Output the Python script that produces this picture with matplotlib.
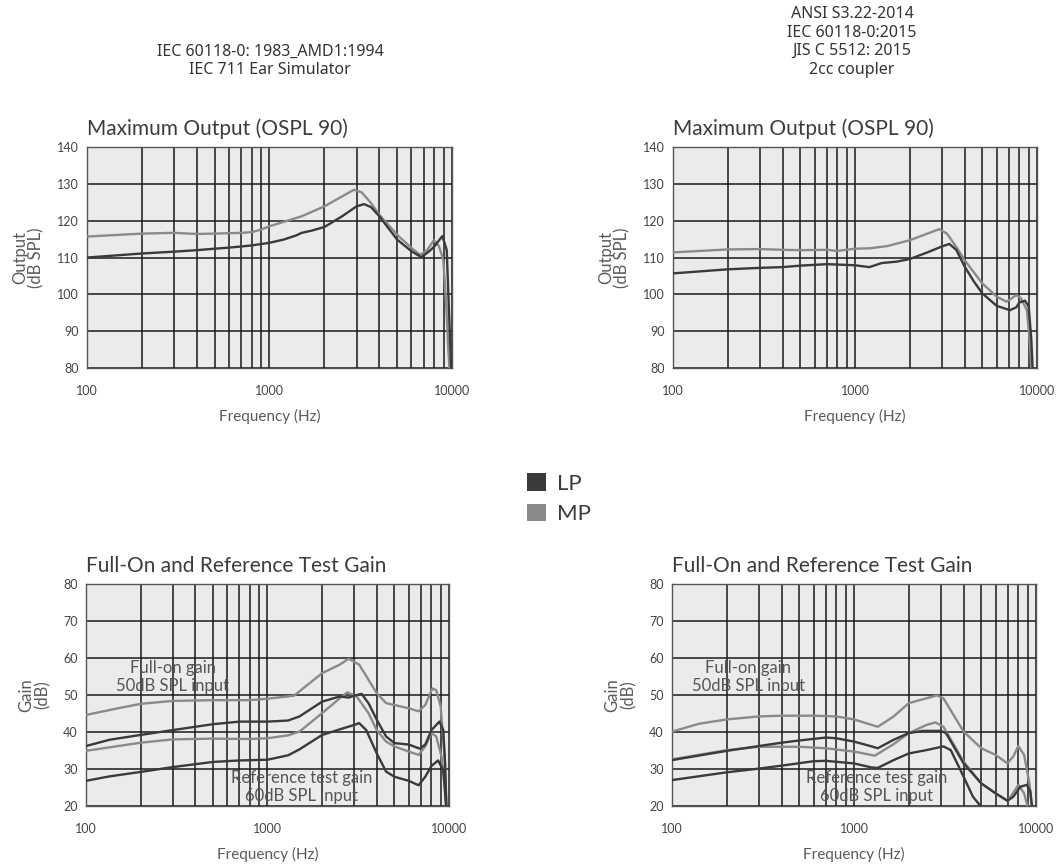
import matplotlib
matplotlib.use("Agg")
import matplotlib.pyplot as plt
from matplotlib.patches import Patch

LP_COLOR = "#3a3a3a"
MP_COLOR = "#8a8a8a"
TXT = "#444444"

# --- Maximum Output, IEC 711 ear simulator (left top)
tl_lp_f = [100, 200, 300, 400, 500, 600, 700, 800, 1000, 1200, 1400, 1500, 1700, 2000, 2500, 3000, 3300, 3600,
           4000, 5000, 6000, 6800, 7500, 8000, 8850, 9100, 9360, 9580, 9900, 10000]
tl_lp_v = [110.0, 111.1, 111.6, 112.0, 112.4, 112.7, 113.0, 113.3, 114.0, 114.9, 116.0, 116.7, 117.3, 118.3, 121.2,
           123.9, 124.5, 123.7, 121.2, 114.9, 111.7, 110.1, 111.7, 113.0, 115.8, 114.0, 112.0, 98.5, 80.0, 75.0]
tl_mp_f = [100, 200, 300, 400, 500, 700, 800, 900, 1000, 1200, 1500, 2000, 2500, 2900, 3200, 3600, 4000, 5000,
           6000, 6700, 7300, 7970, 8500, 8970, 9300, 9550, 9750]
tl_mp_v = [115.7, 116.5, 116.7, 116.4, 116.5, 116.7, 116.9, 117.6, 118.5, 119.7, 121.2, 123.9, 126.6, 128.4, 127.7,
           124.8, 121.6, 116.2, 112.6, 110.7, 112.0, 114.75, 113.0, 109.3, 97.0, 85.0, 78.0]

# --- Maximum Output, 2cc coupler (right top)
tr_lp_f = [100, 200, 300, 400, 500, 700, 800, 1000, 1200, 1400, 1700, 2000, 2500, 3000, 3300, 3600, 4000, 4500,
           5000, 6000, 7100, 7700, 8000, 8600, 9000, 9300, 9500]
tr_lp_v = [105.7, 106.8, 107.2, 107.4, 107.8, 108.2, 108.1, 107.9, 107.4, 108.5, 108.9, 109.6, 111.4, 113.0, 113.7,
           112.1, 107.6, 103.5, 100.3, 96.9, 95.7, 96.5, 97.8, 98.3, 96.7, 88.0, 78.0]
tr_mp_f = [100, 200, 300, 400, 500, 700, 800, 1000, 1200, 1500, 2000, 2500, 2900, 3200, 3600, 4000, 5000, 6000,
           6800, 7700, 8150, 8800, 9100, 9370]
tr_mp_v = [111.4, 112.2, 112.3, 112.1, 112.0, 112.1, 111.8, 112.4, 112.5, 113.1, 114.7, 116.5, 117.7, 116.5, 112.9,
           109.3, 103.0, 99.4, 98.0, 99.8, 99.0, 95.7, 88.0, 78.0]

# --- Gain, ear simulator (left bottom)
bl_mp_full_f = [100, 150, 200, 300, 500, 800, 1000, 1400, 2000, 2500, 2800, 3200, 4000, 4500, 5000, 6000, 6800,
                7400, 8100, 8500, 9000, 9300, 9500, 9700]
bl_mp_full_v = [44.6, 46.4, 47.6, 48.4, 48.6, 48.6, 49.0, 49.8, 55.9, 58.2, 59.8, 58.2, 50.5, 47.8, 47.3, 46.4,
                45.6, 47.3, 51.8, 51.3, 46.9, 37.8, 32.0, 18.0]
bl_lp_full_f = [100, 135, 200, 300, 500, 700, 1000, 1300, 1500, 2000, 2500, 2800, 3000, 3300, 3600, 4000, 4500,
                5000, 6000, 6900, 7400, 8000, 8850, 9300, 9500, 9700]
bl_lp_full_v = [36.2, 37.9, 39.2, 40.5, 42.1, 42.8, 42.8, 43.1, 44.2, 48.2, 49.6, 49.3, 49.8, 50.3, 47.8, 43.3,
                38.8, 37.0, 36.6, 35.5, 36.6, 40.5, 42.8, 40.5, 32.0, 18.0]
bl_mp_ref_f = [100, 200, 300, 500, 800, 1000, 1300, 1500, 2000, 2500, 2750, 3100, 3600, 4000, 4500, 5000, 6000,
               6800, 7400, 8000, 8500, 9100, 9500, 9700]
bl_mp_ref_v = [34.9, 37.1, 38.0, 38.2, 38.1, 38.3, 39.1, 40.1, 45.1, 49.1, 50.7, 49.6, 45.1, 40.5, 37.4, 36.1,
               34.7, 33.8, 36.1, 39.7, 38.8, 33.3, 25.0, 18.0]
bl_lp_ref_f = [100, 135, 200, 300, 500, 700, 1000, 1300, 1500, 2000, 2500, 3000, 3200, 3500, 4000, 4500, 5000,
               6000, 6800, 7400, 8000, 8700, 9300, 9500, 9700]
bl_lp_ref_v = [26.8, 28.0, 29.2, 30.5, 31.9, 32.3, 32.5, 33.7, 35.3, 39.2, 40.7, 41.9, 42.4, 40.5, 34.2, 29.3,
               27.9, 26.8, 25.6, 27.9, 30.8, 32.3, 29.7, 24.0, 18.0]

# --- Gain, 2cc coupler (right bottom)
br_mp_full_f = [100, 140, 200, 300, 400, 600, 800, 1000, 1250, 1350, 1650, 2000, 2500, 2850, 3100, 4000, 5000,
                6000, 6960, 7500, 7990, 8600, 9200, 9450, 9600]
br_mp_full_v = [40.1, 42.2, 43.4, 44.2, 44.4, 44.4, 44.2, 43.4, 41.9, 41.4, 44.2, 47.8, 49.1, 49.9, 49.1, 40.1,
                35.6, 33.8, 31.5, 33.4, 36.2, 33.8, 26.1, 20.0, 18.0]
br_lp_full_f = [100, 200, 300, 400, 500, 700, 800, 1000, 1250, 1350, 1650, 2000, 2400, 3000, 3200, 4000, 5000,
                6000, 6960, 7500, 8200, 8890, 9300, 9600]
br_lp_full_v = [32.4, 34.9, 36.2, 37.1, 37.7, 38.5, 38.3, 37.4, 36.1, 35.6, 37.9, 39.7, 40.3, 40.3, 39.7, 31.5,
                26.1, 23.4, 21.4, 22.5, 25.2, 25.7, 24.0, 18.0]
br_mp_ref_f = [100, 200, 300, 500, 700, 1000, 1300, 1650, 2000, 2500, 2800, 3100, 4000, 5000, 6000, 7000, 8000,
               8600, 9200]
br_mp_ref_v = [32.6, 35.1, 36.0, 36.0, 35.6, 34.7, 33.6, 36.7, 39.7, 41.9, 42.6, 41.4, 32.0, 26.1, 23.4, 21.4,
               25.7, 23.4, 18.0]
br_lp_ref_f = [100, 200, 300, 400, 600, 700, 1000, 1250, 1350, 1650, 2000, 2500, 3100, 3400, 4000, 4500, 4950,
               5200]
br_lp_ref_v = [27.0, 29.1, 30.1, 30.9, 32.1, 32.2, 31.5, 30.4, 30.3, 32.4, 34.2, 35.1, 36.1, 35.1, 27.9, 22.5,
               20.0, 18.0]

out_yticks = [80, 90, 100, 110, 120, 130, 140]
gain_yticks = [20, 30, 40, 50, 60, 70, 80]
xticks = [100, 1000, 10000]
xticklabels = ["100", "1000", "10000"]

header_left = "IEC 60118-0: 1983_AMD1:1994\nIEC 711 Ear Simulator"
header_right = "ANSI S3.22-2014\nIEC 60118-0:2015\nJIS C 5512: 2015\n2cc coupler"

FONT = "Lato"

fig = plt.figure(figsize=(10.56, 8.67), dpi=100)


def panel(rect, title, ylabel, yticks, curves):
    ax = fig.add_axes(rect)
    ax.set_facecolor("#ebebeb")
    ax.set_xscale("log")
    ax.set_xlim(100, 10000)
    ax.set_ylim(yticks[0], yticks[-1])
    ax.set_yticks(yticks)
    ax.set_xticks(xticks)
    ax.set_xticklabels(xticklabels)
    ax.grid(which="both", axis="x", color="#1a1a1a", lw=1.1)
    ax.grid(which="major", axis="y", color="#1a1a1a", lw=1.1)
    ax.set_axisbelow(True)
    ax.tick_params(which="both", length=0, labelsize=9, labelcolor=TXT)
    ax.tick_params(axis="x", pad=12)
    ax.tick_params(axis="y", pad=6)
    for lab in ax.get_xticklabels() + ax.get_yticklabels():
        lab.set_family(FONT)
    for s in ax.spines.values():
        s.set_color("#555555")
        s.set_linewidth(1.0)
    for f, v, c in curves:
        ax.plot(f, v, color=c, lw=1.7, solid_joinstyle="round", zorder=3)
    ax.text(0, 1.035, title, transform=ax.transAxes, fontsize=15, family=FONT,
            color="#3c3c3c", va="bottom", ha="left")
    ax.set_ylabel(ylabel, fontsize=12, family=FONT, color="#5a5a5a", labelpad=9,
                  linespacing=1.0)
    ax.set_xlabel("Frequency (Hz)", fontsize=11, family=FONT, color="#5a5a5a", labelpad=9)
    return ax


ax1 = panel([0.0824, 0.5755, 0.3456, 0.2549], "Maximum Output (OSPL 90)", "Output\n(dB SPL)", out_yticks,
            [(tl_mp_f, tl_mp_v, MP_COLOR), (tl_lp_f, tl_lp_v, LP_COLOR)])
ax2 = panel([0.6373, 0.5755, 0.3447, 0.2549], "Maximum Output (OSPL 90)", "Output\n(dB SPL)", out_yticks,
            [(tr_mp_f, tr_mp_v, MP_COLOR), (tr_lp_f, tr_lp_v, LP_COLOR)])
ax3 = panel([0.0814, 0.0704, 0.3438, 0.2560], "Full-On and Reference Test Gain", "Gain\n(dB)", gain_yticks,
            [(bl_mp_full_f, bl_mp_full_v, MP_COLOR), (bl_mp_ref_f, bl_mp_ref_v, MP_COLOR),
             (bl_lp_full_f, bl_lp_full_v, LP_COLOR), (bl_lp_ref_f, bl_lp_ref_v, LP_COLOR)])
ax4 = panel([0.6364, 0.0704, 0.3447, 0.2560], "Full-On and Reference Test Gain", "Gain\n(dB)", gain_yticks,
            [(br_mp_full_f, br_mp_full_v, MP_COLOR), (br_mp_ref_f, br_mp_ref_v, MP_COLOR),
             (br_lp_full_f, br_lp_full_v, LP_COLOR), (br_lp_ref_f, br_lp_ref_v, LP_COLOR)])

for ax, fx, rx in [(ax3, 301, 1543), (ax4, 262, 1333)]:
    ax.text(fx, 54.9, "Full-on gain\n50dB SPL input", ha="center", va="center", fontsize=12, family=FONT,
            color="#555555", zorder=4, linespacing=1.15)
    ax.text(rx, 25.0, "Reference test gain\n60dB SPL input", ha="center", va="center", fontsize=12,
            family=FONT, color="#555555", zorder=4, linespacing=1.15)

fig.text(270 / 1056, 1 - 61 / 867, header_left, ha="center", va="center", fontsize=11.5, family="Noto Sans",
         color="#333333", linespacing=1.2)
fig.text(852 / 1056, 1 - 42 / 867, header_right, ha="center", va="center", fontsize=11.5, family="Noto Sans",
         color="#333333", linespacing=1.2)

handles = [Patch(facecolor=LP_COLOR, edgecolor="none"), Patch(facecolor=MP_COLOR, edgecolor="none")]
leg = fig.legend(handles, ["LP", "MP"], loc="upper left", bbox_to_anchor=(527 / 1056, 1 - 473 / 867),
                 frameon=False, fontsize=16, handlelength=0.86, handleheight=0.86, handletextpad=0.5,
                 labelspacing=0.45, borderpad=0, borderaxespad=0)
for t in leg.get_texts():
    t.set_family(FONT)
    t.set_color("#3c3c3c")

fig.savefig("out.png", dpi=100)
